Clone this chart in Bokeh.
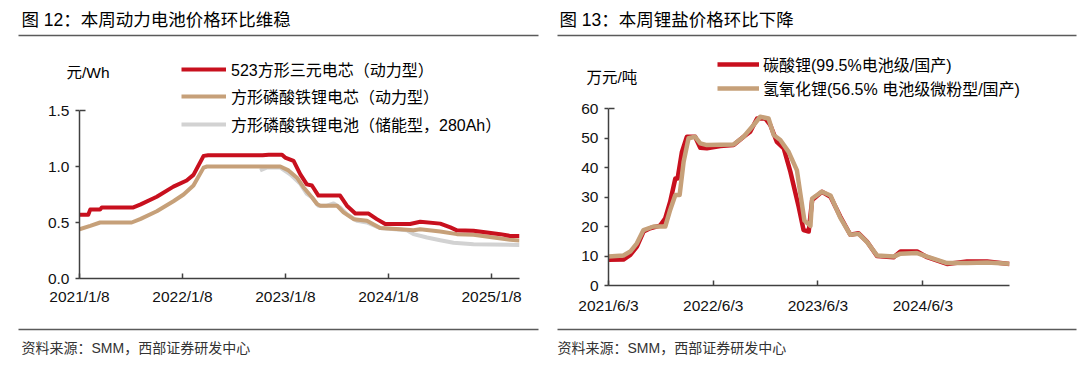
import numpy as np
import pandas as pd
from bokeh.plotting import figure
from bokeh.models import (Range1d, FixedTicker, NumeralTickFormatter, Legend, LegendItem)
from bokeh.core.properties import value
from bokeh.layouts import row, column
from bokeh.embed import file_html
from bokeh.resources import INLINE

FONT = "Liberation Sans, Noto Sans CJK SC"
RED = "#C8101E"
TAN = "#C6A079"
GRAY = "#D2D2D2"
AXIS = "#404040"
RULE = "#5a5a5a"

# ---------------- Figure 12 data (元/Wh) ----------------
ncm_dates = ["2021-01-08", "2021-02-08", "2021-02-15", "2021-03-22", "2021-03-28",
             "2021-07-18", "2021-08-11", "2021-10-09", "2021-12-07", "2022-01-23",
             "2022-02-16", "2022-03-24", "2022-04-09", "2022-10-19", "2022-11-10",
             "2022-12-27", "2023-01-07", "2023-02-06", "2023-03-02", "2023-03-25",
             "2023-04-12", "2023-05-05", "2023-07-21", "2023-08-14", "2023-09-13",
             "2023-10-30", "2023-11-28", "2023-12-28", "2024-03-25", "2024-04-30",
             "2024-07-10", "2024-08-15", "2024-09-07", "2024-11-05", "2024-12-23",
             "2025-02-08", "2025-03-15", "2025-04-17"]
ncm_vals = [0.57, 0.57, 0.615, 0.615, 0.635,
            0.635, 0.66, 0.73, 0.82, 0.875,
            0.925, 1.095, 1.10, 1.10, 1.105,
            1.105, 1.08, 1.05, 0.93, 0.84,
            0.83, 0.74, 0.74, 0.65, 0.58,
            0.58, 0.53, 0.486, 0.486, 0.507,
            0.49, 0.456, 0.43, 0.426, 0.41,
            0.396, 0.38, 0.38]

lfp_dates = ["2021-01-08", "2021-02-15", "2021-03-22", "2021-07-12", "2021-08-11",
             "2021-10-09", "2021-12-07", "2022-01-12", "2022-02-16", "2022-03-24",
             "2022-04-05", "2022-12-21", "2023-01-19", "2023-02-18", "2023-03-13",
             "2023-04-12", "2023-04-30", "2023-05-12", "2023-07-10", "2023-08-02",
             "2023-09-07", "2023-10-24", "2023-12-10", "2024-02-19", "2024-04-06",
             "2024-04-30", "2024-07-10", "2024-09-07", "2024-11-05", "2025-01-02",
             "2025-03-15", "2025-04-17"]
lfp_vals = [0.44, 0.47, 0.50, 0.50, 0.53,
            0.60, 0.69, 0.75, 0.83, 0.99,
            1.0, 1.0, 0.965, 0.90, 0.815,
            0.725, 0.665, 0.65, 0.65, 0.59,
            0.53, 0.516, 0.45, 0.44, 0.43,
            0.44, 0.42, 0.396, 0.39, 0.37,
            0.345, 0.34]

ess_dates = ["2022-10-10", "2022-11-02", "2022-12-21", "2023-01-25", "2023-03-02",
             "2023-03-25", "2023-04-12", "2023-05-05", "2023-06-04", "2023-06-28",
             "2023-07-21", "2023-08-14", "2023-09-19", "2023-10-24", "2023-12-10",
             "2024-03-14", "2024-04-06", "2024-05-24", "2024-07-10", "2024-08-26",
             "2024-11-05", "2025-04-17"]
ess_vals = [0.964, 0.99, 0.99, 0.93, 0.845,
            0.755, 0.725, 0.65, 0.65, 0.67,
            0.635, 0.575, 0.516, 0.50, 0.45,
            0.43, 0.396, 0.366, 0.342, 0.32,
            0.306, 0.30]

left_title = "图 12：本周动力电池价格环比维稳"
left_unit = "元/Wh"
left_names = ["523方形三元电芯（动力型）", "方形磷酸铁锂电芯（动力型）",
              "方形磷酸铁锂电池（储能型，280Ah）"]
left_tick_dates = ["2021-01-08", "2022-01-08", "2023-01-08", "2024-01-08", "2025-01-08"]
left_tick_labels = ["2021/1/8", "2022/1/8", "2023/1/8", "2024/1/8", "2025/1/8"]
left_yticks = [0.0, 0.5, 1.0, 1.5]
left_xrange = ["2021-01-08", "2025-04-17"]

# ---------------- Figure 13 data (万元/吨) ----------------
lc_dates = ["2021-06-03", "2021-07-25", "2021-08-18", "2021-09-10", "2021-10-03",
            "2021-10-26", "2021-11-30", "2021-12-18", "2022-01-04", "2022-01-22",
            "2022-01-30", "2022-02-14", "2022-03-03", "2022-04-01", "2022-04-19",
            "2022-05-12", "2022-06-28", "2022-08-13", "2022-09-17", "2022-10-10",
            "2022-11-03", "2022-12-02", "2022-12-19", "2023-01-11", "2023-02-04",
            "2023-02-27", "2023-03-28", "2023-04-14", "2023-05-02", "2023-05-14",
            "2023-06-17", "2023-07-17", "2023-08-20", "2023-09-24", "2023-10-23",
            "2023-11-21", "2023-12-26", "2024-02-22", "2024-03-17", "2024-05-14",
            "2024-06-18", "2024-08-26", "2024-11-04", "2025-01-13", "2025-04-01"]
lc_vals = [8.7, 8.8, 10.4, 13.2, 18.3,
           19.4, 20.3, 22.8, 28.4, 36.3,
           36.3, 45.3, 50.4, 50.4, 46.7,
           46.5, 47.3, 47.6, 50.4, 52.1,
           56.6, 56.6, 54.4, 48.7, 46.5,
           38.6, 26.7, 18.8, 18.3, 29.0,
           31.8, 30.1, 23.4, 17.2, 17.7,
           14.9, 10.0, 9.6, 11.5, 11.5,
           9.6, 7.3, 8.1, 8.1, 7.3]

lioh_dates = ["2021-06-03", "2021-07-25", "2021-08-18", "2021-09-10", "2021-10-03",
              "2021-11-07", "2021-12-18", "2022-01-04", "2022-01-22", "2022-02-06",
              "2022-02-20", "2022-03-09", "2022-04-01", "2022-04-19", "2022-05-12",
              "2022-08-13", "2022-09-17", "2022-10-22", "2022-11-14", "2022-12-13",
              "2022-12-31", "2023-01-23", "2023-02-21", "2023-03-22", "2023-04-03",
              "2023-04-17", "2023-05-08", "2023-05-14", "2023-06-17", "2023-07-17",
              "2023-08-20", "2023-09-24", "2023-10-23", "2023-11-21", "2023-12-26",
              "2024-02-22", "2024-03-17", "2024-05-14", "2024-06-18", "2024-08-26",
              "2024-11-04", "2025-01-13", "2025-04-01"]
lioh_vals = [9.8, 10.2, 11.5, 14.3, 18.8,
             20.0, 20.0, 25.6, 30.7, 30.7,
             42.0, 49.9, 50.4, 48.2, 47.6,
             47.8, 50.4, 54.4, 57.2, 56.6,
             51.0, 49.3, 45.3, 39.0, 31.0,
             22.0, 20.2, 29.5, 31.8, 30.5,
             23.0, 17.2, 17.5, 14.8, 10.2,
             9.8, 10.8, 11.0, 9.8, 7.6,
             7.6, 7.8, 7.4]

right_title = "图 13：本周锂盐价格环比下降"
right_unit = "万元/吨"
right_names = ["碳酸锂(99.5%电池级/国产)", "氢氧化锂(56.5% 电池级微粉型/国产)"]
right_tick_dates = ["2021-06-03", "2022-06-03", "2023-06-03", "2024-06-03"]
right_tick_labels = ["2021/6/3", "2022/6/3", "2023/6/3", "2024/6/3"]
right_yticks = [0, 10, 20, 30, 40, 50, 60]
right_xrange = ["2021-06-03", "2025-04-01"]

source_text = "资料来源：SMM，西部证券研发中心"

NOTHING = np.array([np.nan, np.nan])   # legend-key stand-ins draw nothing
ROW_H = 24                             # legend row height (px)


def to_ms(s):
    return int((pd.Timestamp(s) - pd.Timestamp("1970-01-01")) // pd.Timedelta("1ms"))


def decor(x0, x1, y0, y1):
    """Full-bleed strip whose data coordinates equal page pixels."""
    d = figure(width=x1 - x0, height=y1 - y0, x_range=Range1d(x0, x1),
               y_range=Range1d(y1, y0), output_backend="svg", toolbar_location=None,
               min_border=0, x_axis_location=None, y_axis_location=None,
               outline_line_color=None, background_fill_color="white",
               border_fill_color="white", frame_align=False)
    d.grid.visible = False
    d.title.visible = False
    return d


def put_text(d, X, Y, text, size, color="#000000"):
    d.text(x=[X], y=[Y], text=[text], text_font=value(FONT),
           text_font_size=value(size), text_color=color,
           text_baseline="middle", text_align="left")


def put_rule(d, X0, X1, Y):
    d.line(x=[X0, X1], y=[Y, Y], line_color=RULE, line_width=1.5)


def style_legend(leg, gw, sp, so):
    leg.glyph_width = gw
    leg.glyph_height = ROW_H
    leg.label_height = ROW_H
    leg.spacing = sp
    leg.padding = 0
    leg.margin = 0
    leg.label_standoff = so
    leg.border_line_color = None
    leg.background_fill_alpha = 0
    leg.label_text_font = FONT
    leg.label_text_font_size = "16px"
    leg.label_text_color = "#000000"


def make_chart(w, h, xr, xticks, xlabels, yticks, ytop, yfmt, bl, br, bb, xstand):
    p = figure(width=w, height=h, x_axis_type="datetime",
               x_range=Range1d(to_ms(xr[0]), to_ms(xr[1])),
               y_range=Range1d(yticks[0], ytop),
               output_backend="svg", toolbar_location=None,
               min_border_left=bl, min_border_right=br,
               min_border_top=0, min_border_bottom=bb,
               outline_line_color=None, background_fill_color="white",
               border_fill_color="white", frame_align=False)
    p.title.visible = False
    p.grid.visible = False
    tk = [to_ms(d) for d in xticks]
    p.xaxis.ticker = FixedTicker(ticks=tk)
    p.xaxis.major_label_overrides = {t: l for t, l in zip(tk, xlabels)}
    p.yaxis.ticker = FixedTicker(ticks=yticks)
    p.yaxis.formatter = NumeralTickFormatter(format=yfmt)
    p.yaxis.bounds = (yticks[0], yticks[-1])
    for ax in (p.xaxis, p.yaxis):
        ax.axis_line_color = AXIS
        ax.axis_line_width = 1.5
        ax.major_tick_line_color = AXIS
        ax.major_tick_line_width = 1.5
        ax.minor_tick_line_color = None
        ax.major_label_text_font = "Liberation Sans"
        ax.major_label_text_font_size = "15.5px"
        ax.major_label_text_color = "#111111"
    p.xaxis.major_tick_in = 5
    p.xaxis.major_tick_out = 0
    p.xaxis.major_label_standoff = xstand
    p.yaxis.major_tick_in = 0
    p.yaxis.major_tick_out = 4
    p.yaxis.major_label_standoff = 6
    # small cap at the top end of the value axis, pointing into the plot (6 px)
    x0 = to_ms(xr[0])
    cap = (to_ms(xr[1]) - x0) * 6.0 / (w - bl - br)
    p.segment(x0=[x0], y0=[yticks[-1]], x1=[x0 + cap], y1=[yticks[-1]],
              line_color=AXIS, line_width=1.5)
    return p


# ================= left panel (page x 0..540) =================
H1 = 84           # header bottom (page px)
C1 = 315          # chart canvas bottom
BOT = 365
FT1, FB1 = 110, 278   # page y of top tick (1.5) and of zero
h1 = decor(0, 540, 0, H1)
put_text(h1, 21, 19, left_title, "17.5px")
put_rule(h1, 18, 538, 35)
put_text(h1, 66, 72, left_unit, "15.5px")
d_ncm = h1.line(x=NOTHING, y=NOTHING, line_color=RED, line_width=4)
leg_h1 = Legend(items=[LegendItem(label=left_names[0], renderers=[d_ncm])],
                location=(181, H1 - (69 + ROW_H // 2)))
style_legend(leg_h1, 45, 4, 5)
h1.add_layout(leg_h1)

ytop1 = left_yticks[-1] * (FB1 - H1) / (FB1 - FT1)
c1 = make_chart(540, C1 - H1, left_xrange, left_tick_dates, left_tick_labels,
                left_yticks, ytop1, "0.0", 79, 21, C1 - FB1, 9)
r_ess = c1.line(pd.to_datetime(ess_dates), ess_vals, line_color=GRAY, line_width=4,
                line_join="round")
r_lfp = c1.line(pd.to_datetime(lfp_dates), lfp_vals, line_color=TAN, line_width=4,
                line_join="round")
r_ncm = c1.line(pd.to_datetime(ncm_dates), ncm_vals, line_color=RED, line_width=4,
                line_join="round")
leg_c1 = Legend(items=[LegendItem(label=left_names[1], renderers=[r_lfp]),
                       LegendItem(label=left_names[2], renderers=[r_ess])],
                location=(181 - 79, FB1 - (124 + ROW_H // 2)))
style_legend(leg_c1, 45, 4, 5)
c1.add_layout(leg_c1)

f1 = decor(0, 540, C1, BOT)
put_rule(f1, 18, 538, 329)
put_text(f1, 21, 347, source_text, "14px", "#333333")

# ================= right panel (page x 540..1080) =================
H2 = 98
C2 = 322
FT2, FB2 = 108, 285
h2 = decor(540, 1080, 0, H2)
put_text(h2, 559, 19, right_title, "17.5px")
put_rule(h2, 557, 1076, 35)
put_text(h2, 586, 77, right_unit, "15.5px")
d_lc = h2.line(x=NOTHING, y=NOTHING, line_color=RED, line_width=4.5)
d_lioh = h2.line(x=NOTHING, y=NOTHING, line_color=TAN, line_width=4.5)
leg_h2 = Legend(items=[LegendItem(label=right_names[0], renderers=[d_lc]),
                       LegendItem(label=right_names[1], renderers=[d_lioh])],
                location=(717 - 540, H2 - (88 + ROW_H // 2)))
style_legend(leg_h2, 42, 0, 4)
h2.add_layout(leg_h2)

ytop2 = right_yticks[-1] * (FB2 - H2) / (FB2 - FT2)
c2 = make_chart(540, C2 - H2, right_xrange, right_tick_dates, right_tick_labels,
                right_yticks, ytop2, "0", 68, 71, C2 - FB2, 11)
r_lc = c2.line(pd.to_datetime(lc_dates), lc_vals, line_color=RED, line_width=4.5,
               line_join="round")
r_lioh = c2.line(pd.to_datetime(lioh_dates), lioh_vals, line_color=TAN, line_width=4.5,
                 line_join="round")

f2 = decor(540, 1080, C2, BOT)
put_rule(f2, 557, 1076, 329)
put_text(f2, 557, 347, source_text, "14px", "#333333")

layout = row(column(h1, c1, f1), column(h2, c2, f2))
open("out.html", "w").write(file_html(layout, INLINE))
